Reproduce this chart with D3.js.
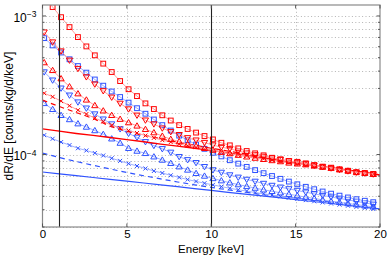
<!DOCTYPE html>
<html><head><meta charset="utf-8">
<script src="https://cdn.jsdelivr.net/npm/d3@7"></script>
<style>
html,body{margin:0;padding:0;background:#fff;}
svg{display:block;font-family:"Liberation Sans",Arial,sans-serif;}
</style></head>
<body><svg id="c" width="390" height="256"></svg>
<script>
// Values in units of 1e-4 counts/kg/d/keV
const UNIT = 1e-4;
const energies = [0.1,0.6,1.1,1.6,2.1,2.6,3.1,3.6,4.1,4.6,5.1,5.6,6.1,6.6,7.1,7.6,8.1,8.6,9.1,9.6,10.1,10.6,11.1,11.6,12.1,12.6,13.1,13.6,14.1,14.6,15.1,15.6,16.1,16.6,17.1,17.6,18.1,18.6,19.1,19.6];
const lineEnergies = [0,1,2,3,4,5,6,7,8,9,10,11,12,13,14,15,16,17,18,19,20];

const redSquare = [13.6,11.6,9.8,8.31,7.04,6.03,5.20,4.53,3.94,3.39, 2.96,2.64,2.34,2.13,1.92,1.76,1.63,1.53,1.44,1.36, 1.286,1.216,1.165,1.108,1.06,1.02,0.987,0.948,0.924,0.898, 0.886,0.864,0.840,0.818,0.804,0.783,0.764,0.745,0.736,0.724];
const redDown = [7.64,6.48,5.58,4.79,4.17,3.63,3.22,2.88,2.59,2.34, 2.13,1.92,1.77,1.66,1.55,1.46,1.39,1.32,1.27,1.22, 1.17,1.13,1.10,1.06,1.025,0.995,0.968,0.943,0.92,0.898, 0.877,0.856,0.835,0.815,0.798,0.779,0.760,0.745,0.733,0.722];
const redUp = [4.61,4.05,3.53,3.09,2.75,2.48,2.26,2.07,1.92,1.80, 1.70,1.61,1.52,1.44,1.36,1.29,1.24,1.19,1.15,1.11, 1.077,1.04,1.016,0.99,0.963,0.943,0.924,0.906,0.89,0.87, 0.857,0.845,0.828,0.812,0.797,0.778,0.762,0.747,0.734,0.722];
const redX = [2.77,2.61,2.43,2.25,2.09,1.96,1.83,1.73,1.63,1.55, 1.49,1.43,1.37,1.32,1.27,1.23,1.19,1.16,1.13,1.10, 1.07,1.04,1.01,0.99,0.976,0.953,0.931,0.912,0.892,0.875, 0.858,0.84,0.828,0.812,0.797,0.778,0.762,0.747,0.734,0.722];
const redDash = [2.47,2.22,2.01,1.82,1.60,1.47,1.38,1.30,1.23,1.17,1.11,1.06,1.01,0.965,0.925,0.885,0.845,0.81,0.775,0.745,0.715];
const redSolid = [1.533,1.476,1.42,1.374,1.328,1.282,1.236,1.19,1.15,1.11,1.072,1.028,0.987,0.947,0.909,0.872,0.837,0.804,0.773,0.743,0.712];

const blueSquare = [6.92,6.13,5.45,4.87,4.35,3.90,3.48,3.14,2.85,2.60, 2.37,2.16,1.97,1.79,1.63,1.49,1.37,1.27,1.18,1.10, 1.03,0.97,0.91,0.86,0.815,0.772,0.734,0.70,0.668,0.638, 0.61,0.585,0.562,0.541,0.522,0.505,0.49,0.476,0.464,0.453];
const blueDown = [3.94,3.44,3.01,2.68,2.39,2.16,1.96,1.80,1.66,1.53, 1.42,1.33,1.236,1.16,1.10,1.037,0.965,0.916,0.873,0.817, 0.774,0.743,0.712,0.685,0.661,0.64,0.618,0.598,0.581,0.565, 0.55,0.535,0.52,0.507,0.494,0.482,0.471,0.459,0.448,0.437];
const blueUp = [2.34,2.12,1.92,1.79,1.67,1.58,1.49,1.40,1.30,1.21, 1.11,1.06,1.02,0.964,0.913,0.865,0.817,0.774,0.732,0.70, 0.672,0.648,0.626,0.607,0.589,0.573,0.557,0.543,0.53,0.517, 0.505,0.493,0.482,0.471,0.46,0.452,0.443,0.435,0.427,0.419];
const blueX = [1.38,1.30,1.23,1.17,1.11,1.07,1.025,0.984,0.94,0.90, 0.86,0.827,0.793,0.761,0.736,0.708,0.684,0.66,0.64,0.621, 0.604,0.587,0.571,0.557,0.545,0.532,0.521,0.51,0.499,0.488, 0.478,0.469,0.46,0.451,0.443,0.435,0.427,0.419,0.412,0.405];
const blueDash = [1.025,0.951,0.891,0.837,0.787,0.743,0.703,0.667,0.634,0.605,0.579,0.556,0.535,0.515,0.499,0.483,0.469,0.456,0.444,0.433,0.423];
const blueSolid = [0.748,0.726,0.704,0.683,0.662,0.642,0.623,0.604,0.586,0.568,0.551,0.534,0.518,0.503,0.488,0.473,0.459,0.445,0.431,0.418,0.405];

const xTicks = [0,5,10,15,20];
const yMajor = [1e-4,1e-3];
const vLines = [1,10];

const RED = "#ff0000", RED_L = "#ff9a9a";
const BLUE = "#2f52ff", BLUE_L = "#9fb0ff";
const FONT = "Liberation Sans, Arial, sans-serif";

const svg = d3.select("#c");
const L = 42.5, R = 380, T = 5, B = 227;
const x = d3.scaleLinear().domain([0,20]).range([L,R]);
const y = d3.scaleLog().domain([3e-5,1.2e-3]).range([B,T]);

svg.append("defs").append("clipPath").attr("id","clip")
  .append("rect").attr("x",L).attr("y",T).attr("width",R-L).attr("height",B-T);

// grid
const minor = [];
for (let e=-5;e<=-3;e++) for (let m=1;m<=9;m++){const v=m*Math.pow(10,e); if(v>=3e-5 && v<=1.2e-3) minor.push(v);}
const grid = svg.append("g").attr("stroke","#b4b4b4").attr("stroke-width",1).attr("stroke-dasharray","1,2.4");
grid.selectAll("line.h").data(minor).join("line")
  .attr("x1",L).attr("x2",R).attr("y1",d=>Math.round(y(d))+0.5).attr("y2",d=>Math.round(y(d))+0.5);
grid.selectAll("line.v").data([5,10,15]).join("line")
  .attr("y1",T).attr("y2",B).attr("x1",d=>Math.round(x(d))+0.5).attr("x2",d=>Math.round(x(d))+0.5);

const plot = svg.append("g").attr("clip-path","url(#clip)");

function lineSeries(xs, vals, color, width, dash){
  plot.append("path").datum(vals.map((v,i)=>[xs[i],v*UNIT]))
    .attr("fill","none").attr("stroke",color).attr("stroke-width",width)
    .attr("stroke-dasharray",dash||null)
    .attr("d",d3.line().x(d=>x(d[0])).y(d=>y(d[1])));
}
function markerSeries(vals, color, light, shape){
  lineSeries(energies, vals, light, 1);
  const g = plot.append("g").attr("fill","none").attr("stroke",color).attr("stroke-width",1);
  const pts = vals.map((v,i)=>[x(energies[i]), y(v*UNIT)]);
  if (shape==="square"){
    g.selectAll("rect").data(pts).join("rect")
      .attr("x",d=>d[0]-2.4).attr("y",d=>d[1]-2.4).attr("width",4.8).attr("height",4.8);
  } else if (shape==="down"){
    g.selectAll("path").data(pts).join("path")
      .attr("d",d=>`M${d[0]-3.1},${d[1]-2.2}L${d[0]+3.1},${d[1]-2.2}L${d[0]},${d[1]+3.1}Z`);
  } else if (shape==="up"){
    g.selectAll("path").data(pts).join("path")
      .attr("d",d=>`M${d[0]-3.1},${d[1]+2.2}L${d[0]+3.1},${d[1]+2.2}L${d[0]},${d[1]-3.1}Z`);
  } else {
    g.selectAll("path").data(pts).join("path")
      .attr("d",d=>`M${d[0]-2},${d[1]-2}L${d[0]+2},${d[1]+2}M${d[0]-2},${d[1]+2}L${d[0]+2},${d[1]-2}`);
  }
}

// blue group
lineSeries(lineEnergies, blueSolid, BLUE, 1.2);
lineSeries(lineEnergies, blueDash, BLUE, 1.2, "5,4");
markerSeries(blueX, BLUE, BLUE_L, "x");
markerSeries(blueUp, BLUE, BLUE_L, "up");
markerSeries(blueDown, BLUE, BLUE_L, "down");
markerSeries(blueSquare, BLUE, BLUE_L, "square");
// red group
lineSeries(lineEnergies, redSolid, RED, 1.4);
lineSeries(lineEnergies, redDash, RED, 1.2, "5,4");
markerSeries(redX, RED, RED_L, "x");
markerSeries(redUp, RED, RED_L, "up");
markerSeries(redDown, RED, RED_L, "down");
markerSeries(redSquare, RED, RED_L, "square");

// vertical reference lines
svg.append("g").selectAll("line").data(vLines).join("line")
  .attr("x1",d=>Math.round(x(d))+0.5).attr("x2",d=>Math.round(x(d))+0.5)
  .attr("y1",T).attr("y2",B).attr("stroke","#222").attr("stroke-width",1.1);

// frame
svg.append("rect").attr("x",L).attr("y",T).attr("width",R-L).attr("height",B-T)
  .attr("fill","none").attr("stroke","#8a8a8a").attr("stroke-width",1.2);

// ticks
const tk = svg.append("g").attr("stroke","#555").attr("stroke-width",1);
tk.selectAll("line.b").data(xTicks).join("line")
  .attr("x1",d=>x(d)).attr("x2",d=>x(d)).attr("y1",B).attr("y2",B-3.5);
tk.selectAll("line.t").data(xTicks).join("line")
  .attr("x1",d=>x(d)).attr("x2",d=>x(d)).attr("y1",T).attr("y2",T+3.5);
tk.selectAll("line.l").data(minor).join("line")
  .attr("x1",L).attr("x2",d=>L+(yMajor.includes(d)?3.5:2)).attr("y1",d=>y(d)).attr("y2",d=>y(d));
tk.selectAll("line.r").data(minor).join("line")
  .attr("x1",R).attr("x2",d=>R-(yMajor.includes(d)?3.5:2)).attr("y1",d=>y(d)).attr("y2",d=>y(d));

// axes via d3
const xAxis = d3.axisBottom(x).tickValues(xTicks).tickSize(0).tickPadding(3).tickFormat(d3.format("d"));
const gx = svg.append("g").attr("transform",`translate(0,${B})`).call(xAxis);
gx.select(".domain").remove();
gx.selectAll("text").attr("font-size",11.5).attr("fill","#000").attr("font-family",FONT);

const yAxis = d3.axisLeft(y).tickValues(yMajor).tickSize(0).tickPadding(6).tickFormat(()=> "");
const gy = svg.append("g").attr("transform",`translate(${L},0)`).call(yAxis);
gy.select(".domain").remove();
gy.selectAll(".tick").each(function(d){
  const t = d3.select(this).select("text").attr("font-size",12).attr("fill","#000")
    .attr("font-family",FONT).attr("dy","0.45em");
  t.append("tspan").text("10");
  t.append("tspan").attr("dy","-0.55em").attr("font-size",8.5).text("\u2212" + Math.round(-Math.log10(d)));
});

svg.append("text").attr("x",211).attr("y",253).attr("text-anchor","middle")
  .attr("font-size",11.5).attr("font-family",FONT).text("Energy [keV]");
svg.append("text").attr("transform",`translate(13,${(T+B)/2}) rotate(-90)`).attr("text-anchor","middle")
  .attr("font-size",12).attr("font-family",FONT).text("dR/dE [counts/kg/d/keV]");
</script></body></html>
